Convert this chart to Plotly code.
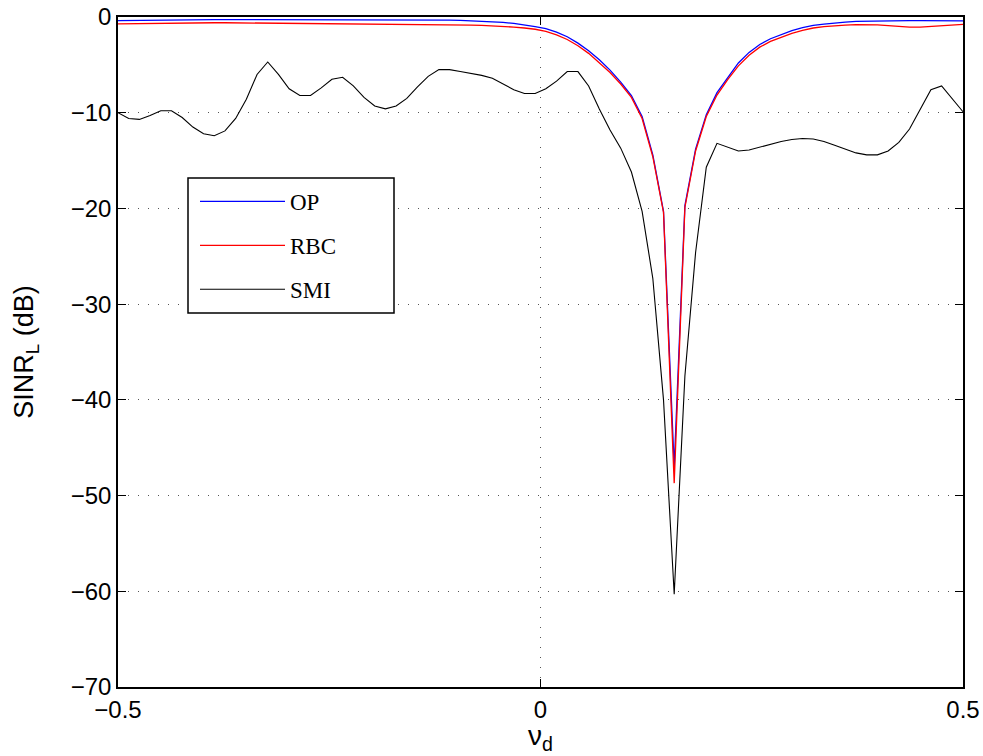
import numpy as np
import plotly.graph_objects as go

# normalized Doppler frequency grid (80 samples over [-0.5, 0.5])
nu_d = np.linspace(-0.5, 0.5, 80)

# output SINR loss in dB for each processor
sinr_op = [
    -0.37, -0.35, -0.33, -0.31, -0.30, -0.29, -0.28, -0.28, -0.27, -0.27,
    -0.27, -0.27, -0.27, -0.27, -0.27, -0.27, -0.27, -0.27, -0.27, -0.27,
    -0.27, -0.27, -0.27, -0.27, -0.27, -0.27, -0.28, -0.28, -0.29, -0.29,
    -0.30, -0.32, -0.36, -0.40, -0.45, -0.50, -0.57, -0.67, -0.80, -1.00,
    -1.22, -1.58, -2.06, -2.73, -3.53, -4.47, -5.55, -6.80, -8.20, -10.40,
    -14.40, -20.30, -47.00, -19.70, -13.80, -10.20, -7.90, -6.30, -4.80, -3.70,
    -2.87, -2.27, -1.82, -1.43, -1.12, -0.88, -0.74, -0.60, -0.53, -0.46,
    -0.43, -0.41, -0.40, -0.39, -0.38, -0.38, -0.38, -0.38, -0.39, -0.40,
]

sinr_rbc = [
    -0.72, -0.70, -0.68, -0.66, -0.64, -0.62, -0.61, -0.60, -0.60, -0.60,
    -0.60, -0.61, -0.62, -0.63, -0.65, -0.66, -0.68, -0.69, -0.70, -0.70,
    -0.70, -0.70, -0.71, -0.71, -0.72, -0.72, -0.72, -0.73, -0.73, -0.74,
    -0.75, -0.77, -0.80, -0.84, -0.88, -0.92, -0.97, -1.05, -1.15, -1.28,
    -1.50, -1.86, -2.35, -3.00, -3.80, -4.75, -5.80, -7.00, -8.40, -10.60,
    -14.60, -20.40, -48.70, -19.90, -14.00, -10.40, -8.15, -6.55, -5.10, -4.00,
    -3.15, -2.55, -2.10, -1.70, -1.40, -1.15, -1.00, -0.90, -0.85, -0.80,
    -0.80, -0.82, -0.90, -1.00, -1.05, -1.05, -1.00, -0.92, -0.85, -0.78,
]

sinr_smi = [
    -10.0, -10.6, -10.7, -10.3, -9.8, -9.8, -10.5, -11.5, -12.2, -12.4,
    -11.9, -10.6, -8.6, -6.0, -4.7, -6.0, -7.5, -8.2, -8.2, -7.4,
    -6.5, -6.3, -7.2, -8.4, -9.3, -9.6, -9.3, -8.5, -7.3, -6.2,
    -5.5, -5.5, -5.7, -5.9, -6.1, -6.4, -7.0, -7.6, -8.0, -8.0,
    -7.5, -6.7, -5.7, -5.7, -7.2, -9.6, -11.8, -13.7, -16.2, -20.3,
    -27.3, -40.0, -60.3, -37.5, -24.6, -15.7, -13.2, -13.6, -14.0, -13.9,
    -13.6, -13.3, -13.0, -12.8, -12.7, -12.75, -13.0, -13.4, -13.8, -14.2,
    -14.4, -14.4, -14.0, -13.1, -11.7, -9.6, -7.6, -7.2, -8.5, -9.9,
]

series_names = ["OP", "RBC", "SMI"]
series_colors = ["#0000ff", "#ff0000", "#000000"]
series_widths = [1.3, 1.3, 1.1]

x_ticks = [-0.5, 0, 0.5]
x_tick_text = ["\u22120.5", "0", "0.5"]
y_ticks = [-70, -60, -50, -40, -30, -20, -10, 0]

x_label = "\u03bd<sub>d</sub>"
y_label = "SINR<sub>L</sub> (dB)"

SANS = "Liberation Sans, Arial, sans-serif"
SERIF = "Liberation Serif, Times New Roman, serif"

# figure geometry (pixels)
W, H = 983, 756
ML, MR, MT, MB = 118, 20, 17, 69
PW, PH = W - ML - MR, H - MT - MB


def px_to_paper(px, py):
    return (px - ML) / PW, 1 - (py - MT) / PH


fig = go.Figure()
for name, data, color, w in zip(series_names, [sinr_op, sinr_rbc, sinr_smi],
                                series_colors, series_widths):
    fig.add_trace(go.Scatter(
        x=nu_d, y=data, mode="lines", name=name, legendgroup=name,
        line=dict(color=color, width=w),
    ))

axis_common = dict(
    showline=True, linecolor="black", linewidth=1.5, mirror="ticks",
    ticks="inside", ticklen=8, tickwidth=1, tickcolor="black",
    showgrid=True, gridcolor="#555555", gridwidth=1, griddash="1px,9px",
    zeroline=False, automargin=False,
    tickfont=dict(family=SANS, size=24, color="black"),
)

fig.update_xaxes(range=[-0.5, 0.5], tickvals=x_ticks, ticktext=x_tick_text,
                 **axis_common)
fig.update_yaxes(
    range=[-70, 0], tickvals=y_ticks,
    title=dict(text=y_label, standoff=29,
               font=dict(family=SANS, size=27, color="black")),
    **axis_common,
)

# x-axis label placed just under the tick labels
_, lab_y = px_to_paper(0, 719)
fig.add_annotation(text=x_label, xref="x", x=0, yref="paper", y=lab_y,
                   yanchor="top", showarrow=False, borderpad=0,
                   font=dict(family=SANS, size=28, color="black"))

# legend frame: white box with a black border behind the legend entries
bx0, by0 = px_to_paper(188, 178)
bx1, by1 = px_to_paper(394, 313)
fig.add_shape(type="rect", xref="paper", yref="paper",
              x0=bx0, y0=by1, x1=bx1, y1=by0,
              line=dict(color="black", width=1.5), fillcolor="white",
              layer="above")

lx, ly = px_to_paper(195, 180)
fig.update_layout(
    width=W, height=H,
    margin=dict(l=ML, r=MR, t=MT, b=MB),
    paper_bgcolor="white", plot_bgcolor="white",
    showlegend=True,
    legend=dict(
        x=lx, y=ly, xanchor="left", yanchor="top",
        bgcolor="rgba(0,0,0,0)", borderwidth=0,
        font=dict(family=SERIF, size=23, color="black"),
        itemwidth=85, tracegroupgap=11,
    ),
)

fig.write_html("out.html", post_script="document.body.style.margin='0px';")
